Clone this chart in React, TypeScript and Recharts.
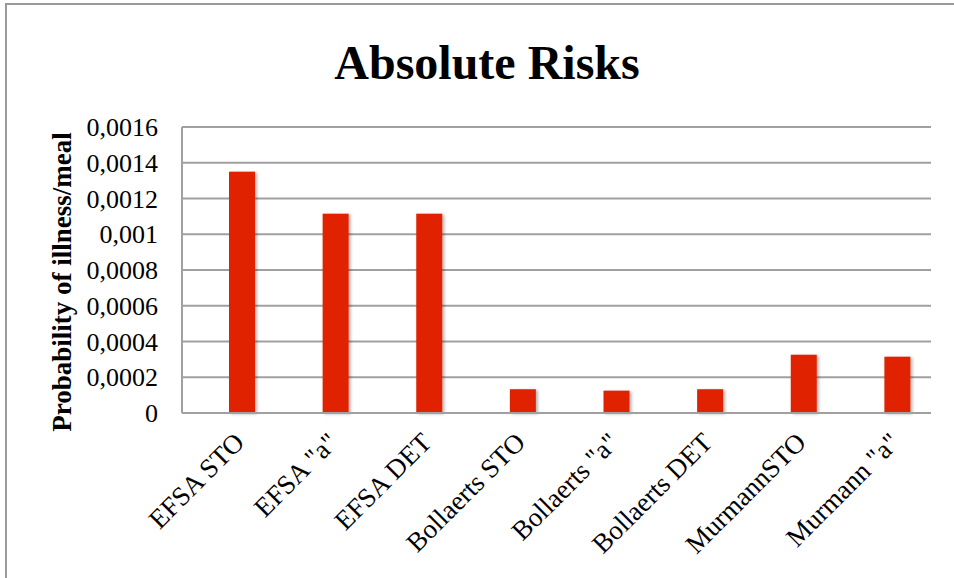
import { BarChart, Bar, XAxis, YAxis, CartesianGrid, Label } from 'recharts'

const scenarios = [
  'EFSA STO',
  'EFSA "a"',
  'EFSA DET',
  'Bollaerts STO',
  'Bollaerts "a"',
  'Bollaerts DET',
  'MurmannSTO',
  'Murmann "a"',
]
const risks = [0.00135, 0.001115, 0.001115, 0.000133, 0.000125, 0.000133, 0.000326, 0.000315]
const riskTicks = [0, 0.0002, 0.0004, 0.0006, 0.0008, 0.001, 0.0012, 0.0014, 0.0016]

const data = scenarios.map((name, i) => ({ name, risk: risks[i] }))

const SERIF = '"Liberation Serif", "Times New Roman", serif'
const GRID = '#a0a0a0'
const BAR_RED = '#e02400'

// decimal comma, as in the original workbook
const commaDecimal = (v: number) => String(v).replace('.', ',')

function AngledTick({ x, y, payload }: any) {
  return (
    <text
      transform={`translate(${x + 4},${y + 29}) rotate(-45)`}
      textAnchor="end"
      fontFamily={SERIF}
      fontSize={27}
      fill="#000"
    >
      {payload.value}
    </text>
  )
}

function ShadowBar({ x, y, width, height }: any) {
  return <rect x={x} y={y} width={width} height={height} fill={BAR_RED} filter="url(#barShadow)" />
}

function YTitle({ viewBox }: any) {
  const cy = viewBox.y + viewBox.height / 2 + 12
  return (
    <text
      transform={`translate(71,${cy}) rotate(-90)`}
      textAnchor="middle"
      fontFamily={SERIF}
      fontWeight="bold"
      fontSize={27}
      fill="#000"
    >
      Probability of illness/meal
    </text>
  )
}

export default function App() {
  return (
    <div
      style={{
        position: 'absolute',
        left: 0,
        top: 0,
        width: 954,
        height: 578,
        overflow: 'hidden',
        background: '#fff',
      }}
    >
      <div
        style={{
          position: 'absolute',
          left: 5,
          top: 3,
          width: 1000,
          height: 650,
          border: '2px solid #9a9a9a',
        }}
      />
      <div
        style={{
          position: 'absolute',
          left: 10,
          top: 39,
          width: 954,
          textAlign: 'center',
          fontFamily: SERIF,
          fontWeight: 'bold',
          fontSize: 48,
          lineHeight: '48px',
          color: '#000',
        }}
      >
        Absolute Risks
      </div>
      <div style={{ position: 'absolute', left: 0, top: 0 }}>
        <BarChart
          width={954}
          height={578}
          data={data}
          margin={{ top: 127, right: 23, bottom: 0, left: 0 }}
        >
          <defs>
            <filter id="barShadow" x="-30%" y="-10%" width="160%" height="130%">
              <feDropShadow dx={2} dy={1} stdDeviation={1.5} floodColor="#000" floodOpacity={0.3} />
            </filter>
          </defs>
          <CartesianGrid vertical={false} stroke={GRID} strokeWidth={2} />
          <XAxis
            dataKey="name"
            height={165}
            interval={0}
            tickLine={false}
            tickSize={0}
            axisLine={{ stroke: GRID, strokeWidth: 2 }}
            tick={<AngledTick />}
            padding={{ left: 13, right: -13 }}
          />
          <YAxis
            width={182}
            domain={[0, 0.0016]}
            ticks={riskTicks}
            tickFormatter={commaDecimal}
            tickLine={false}
            tickSize={0}
            tickMargin={24}
            axisLine={{ stroke: GRID, strokeWidth: 2 }}
            tick={{ fontFamily: SERIF, fontSize: 26, fill: '#000' }}
          >
            <Label content={<YTitle />} />
          </YAxis>
          <Bar dataKey="risk" barSize={26} shape={<ShadowBar />} isAnimationActive={false} />
        </BarChart>
      </div>
    </div>
  )
}
